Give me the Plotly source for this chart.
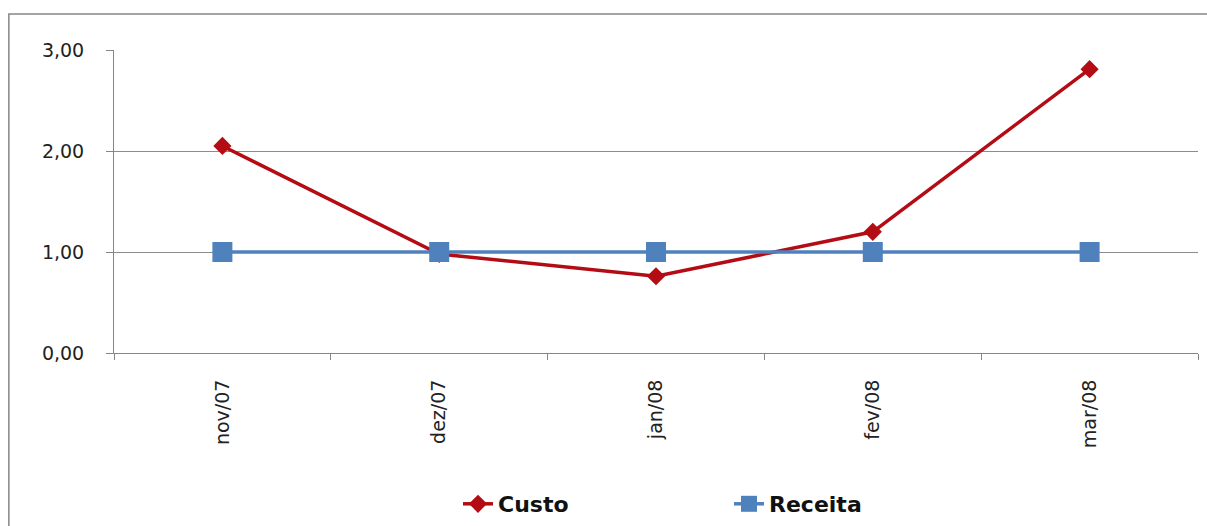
import plotly.graph_objects as go

categories = ["nov/07", "dez/07", "jan/08", "fev/08", "mar/08"]
custo = [2.05, 0.98, 0.76, 1.20, 2.81]
receita = [1.00, 1.00, 1.00, 1.00, 1.00]

fig = go.Figure()
fig.add_trace(go.Scatter(
    x=categories, y=custo, name="Custo", mode="lines+markers",
    line=dict(color="#B40C14", width=3.5),
    marker=dict(symbol="diamond", size=14, color="#B40C14"),
))
fig.add_trace(go.Scatter(
    x=categories, y=receita, name="Receita", mode="lines+markers",
    line=dict(color="#4F81BD", width=3.5),
    marker=dict(symbol="square", size=20, color="#4F81BD"),
))

fig.update_layout(
    width=1207, height=526,
    margin=dict(l=114, r=9, t=50, b=173, autoexpand=False),
    paper_bgcolor="white", plot_bgcolor="white",
    separators=",.",
    font=dict(family="DejaVu Sans", size=19, color="#222"),
    showlegend=True,
    legend=dict(orientation="h", xref="container", yref="container",
                x=458 / 1207, xanchor="left", y=1 - 504 / 526, yanchor="middle",
                font=dict(size=22, color="#111", family="DejaVu Sans", weight="bold"),
                entrywidth=226, tracegroupgap=0),
    xaxis=dict(type="category", range=[-0.5, 4.5], tickson="boundaries",
               ticks="outside", ticklen=6, tickcolor="#868686",
               showline=True, linecolor="#868686", linewidth=1,
               showgrid=False, tickangle=-90, ticklabelstandoff=18,
               automargin=False,
               tickfont=dict(size=19, color="#222")),
    yaxis=dict(range=[0, 3], tickvals=[0, 1, 2, 3], tickformat=".2f",
               ticks="outside", ticklen=7, tickcolor="#868686",
               showline=True, linecolor="#868686", linewidth=1,
               showgrid=True, gridcolor="#8C8C8C", gridwidth=1,
               zeroline=False, ticklabelstandoff=18, automargin=False,
               tickfont=dict(size=19, color="#222")),
    shapes=[dict(type="rect", xref="paper", yref="paper",
                 x0=-0.097, x1=1.05, y0=-0.7, y1=1.119,
                 line=dict(color="#868686", width=1.5), layer="below")],
)

fig.write_html("out.html")
